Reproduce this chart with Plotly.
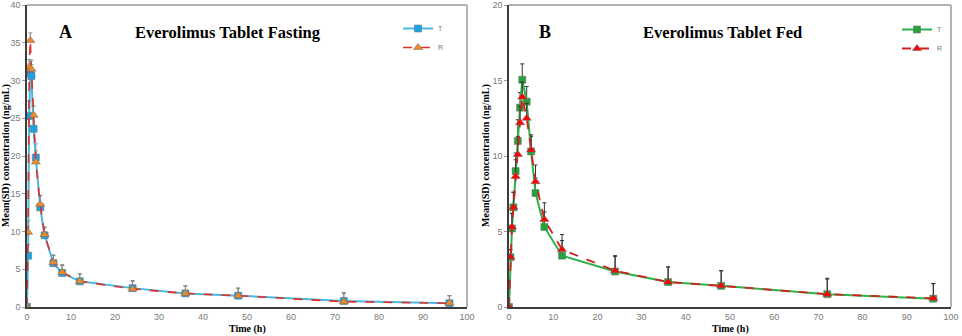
import plotly.graph_objects as go

# ---- Data ----
time_a = [0, 0.25, 0.5, 0.75, 1, 1.5, 2, 3, 4, 6, 8, 12, 24, 36, 48, 72, 96]
t_fast = [0, 6.8, 25.3, 31.0, 30.6, 23.6, 19.8, 13.2, 9.5, 5.8, 4.5, 3.4, 2.5, 1.8, 1.5, 0.8, 0.5]
t_fast_sd = [0, 1.5, 2.0, 1.5, 1.5, 2.0, 1.8, 1.5, 1.0, 1.0, 1.0, 1.0, 1.0, 1.0, 1.0, 1.1, 1.0]
r_fast = [0, 9.9, 31.8, 35.3, 31.5, 25.4, 19.2, 13.6, 9.6, 5.9, 4.6, 3.4, 2.4, 1.8, 1.5, 0.7, 0.5]
r_fast_sd = [0, 1.5, 1.0, 1.0, 1.2, 1.2, 1.5, 1.2, 1.0, 1.0, 1.0, 1.0, 1.0, 1.0, 1.0, 1.1, 1.0]

time_b = [0, 0.33, 0.67, 1, 1.5, 2, 2.5, 3, 4, 5, 6, 8, 12, 24, 36, 48, 72, 96]
t_fed = [0, 3.3, 5.2, 6.6, 9.0, 11.0, 13.2, 15.05, 13.6, 10.3, 7.55, 5.3, 3.4, 2.35, 1.65, 1.4, 0.85, 0.55]
t_fed_sd = [0, 0.5, 1.0, 1.0, 1.2, 1.4, 1.0, 1.05, 1.0, 1.0, 1.0, 1.0, 1.0, 1.0, 1.0, 1.0, 1.0, 1.0]
r_fed = [0, 3.3, 5.3, 6.6, 8.65, 10.1, 12.2, 13.9, 12.5, 10.4, 8.3, 5.8, 3.8, 2.4, 1.65, 1.4, 0.85, 0.58]
r_fed_sd = [0, 0.5, 0.9, 1.0, 1.1, 1.2, 1.1, 1.0, 1.0, 1.0, 1.1, 1.1, 1.0, 1.0, 1.0, 1.0, 1.05, 0.97]

x_ticks = [0, 10, 20, 30, 40, 50, 60, 70, 80, 90, 100]

W, H = 962, 336
ML, MR, MT, MB = 27, 11, 5, 29
PW = W - ML - MR
PH = H - MT - MB

def px(x):
    return (x - ML) / PW

def py(y):
    return 1 - (y - MT) / PH

fig = go.Figure()

def err(sd, color):
    return dict(type="data", symmetric=False, array=sd, arrayminus=[0] * len(sd),
                color=color, thickness=1, width=2)

shadow = "rgba(110,110,110,0.55)"

fig.add_trace(go.Scatter(x=time_a, y=t_fast, name="T", mode="lines+markers",
                         line=dict(color="#4bb8e0", width=2),
                         marker=dict(symbol="square", size=7, color="#1aa3e8",
                                     line=dict(color=shadow, width=1)),
                         error_y=err(t_fast_sd, "#888888"),
                         xaxis="x", yaxis="y", legend="legend"))
fig.add_trace(go.Scatter(x=time_a, y=r_fast, name="R", mode="lines+markers",
                         line=dict(color="#e0302a", width=1.6, dash="dash"),
                         marker=dict(symbol="triangle-up", size=8, color="#f08a24",
                                     line=dict(color=shadow, width=1)),
                         error_y=err(r_fast_sd, "#888888"),
                         xaxis="x", yaxis="y", legend="legend"))

fig.add_trace(go.Scatter(x=time_b, y=t_fed, name="T", mode="lines+markers",
                         line=dict(color="#2fb04a", width=2),
                         marker=dict(symbol="square", size=7, color="#22a43a",
                                     line=dict(color=shadow, width=1)),
                         error_y=err(t_fed_sd, "#333333"),
                         xaxis="x2", yaxis="y2", legend="legend2"))
fig.add_trace(go.Scatter(x=time_b, y=r_fed, name="R", mode="lines+markers",
                         line=dict(color="#d42020", width=1.8, dash="dash"),
                         marker=dict(symbol="triangle-up", size=8, color="#ff0000",
                                     line=dict(color=shadow, width=1)),
                         error_y=err(r_fed_sd, "#333333"),
                         xaxis="x2", yaxis="y2", legend="legend2"))

tickfont = dict(family="Liberation Sans", size=9, color="#7a7a7a")
axcommon = dict(showgrid=False, zeroline=False, showline=True, linecolor="#3c3c3c",
                linewidth=1.5, tickfont=tickfont, automargin=False)

dom_a = [0, px(467)]
dom_b = [px(509), 1]

fig.update_layout(
    width=W, height=H,
    margin=dict(l=ML, r=MR, t=MT, b=MB, autoexpand=False),
    paper_bgcolor="white", plot_bgcolor="white",
    xaxis=dict(domain=dom_a, range=[0, 100], tickvals=x_ticks, ticks="", anchor="y", **axcommon),
    yaxis=dict(domain=[0, 1], range=[0, 40], dtick=5, ticks="outside", ticklen=3,
               tickcolor="#999999", anchor="x", **axcommon),
    xaxis2=dict(domain=dom_b, range=[0, 100], tickvals=x_ticks, ticks="", anchor="y2", **axcommon),
    yaxis2=dict(domain=[0, 1], range=[0, 20], dtick=5, ticks="outside", ticklen=3,
                tickcolor="#999999", anchor="x2", **axcommon),
    legend=dict(x=px(398), y=py(14), xanchor="left", yanchor="top",
                font=dict(family="Liberation Sans", size=7, color="#777777"),
                bgcolor="rgba(0,0,0,0)", itemwidth=30, tracegroupgap=0),
    legend2=dict(x=px(897), y=py(15), xanchor="left", yanchor="top",
                 font=dict(family="Liberation Sans", size=7, color="#777777"),
                 bgcolor="rgba(0,0,0,0)", itemwidth=30, tracegroupgap=0),
    showlegend=True,
)

# top/right frame in lighter grey
for xd in ("x domain", "x2 domain"):
    yd = "y domain" if xd == "x domain" else "y2 domain"
    fig.add_shape(type="line", xref=xd, yref=yd, x0=0, x1=1, y0=1, y1=1,
                  line=dict(color="#9a9a9a", width=1.5))
    fig.add_shape(type="line", xref=xd, yref=yd, x0=1, x1=1, y0=0, y1=1,
                  line=dict(color="#9a9a9a", width=1.5))

serif = "Liberation Serif"
ann = [
    dict(text="<b>A</b>", x=px(65), y=py(32), size=18),
    dict(text="<b>Everolimus Tablet Fasting</b>", x=px(228), y=py(32), size=16.5),
    dict(text="<b>B</b>", x=px(545), y=py(32), size=18),
    dict(text="<b>Everolimus Tablet Fed</b>", x=px(722), y=py(32), size=16.5),
    dict(text="<b>Time (h)</b>", x=px(247), y=py(329), size=10),
    dict(text="<b>Time (h)</b>", x=px(730), y=py(329), size=10),
]
for a in ann:
    fig.add_annotation(text=a["text"], x=a["x"], y=a["y"], xref="paper", yref="paper",
                       xanchor="center", yanchor="middle", showarrow=False,
                       font=dict(family=serif, size=a["size"], color="black"))

for xpos in (6, 486):
    fig.add_annotation(text="<b>Mean(SD) concentration (ng/mL)</b>", x=px(xpos), y=py(156),
                       xref="paper", yref="paper", xanchor="center", yanchor="middle",
                       textangle=-90, showarrow=False,
                       font=dict(family=serif, size=10, color="black"))

fig.write_html("out.html", config={"displayModeBar": False},
               post_script="document.body.style.margin='0';document.body.style.overflow='hidden';")
